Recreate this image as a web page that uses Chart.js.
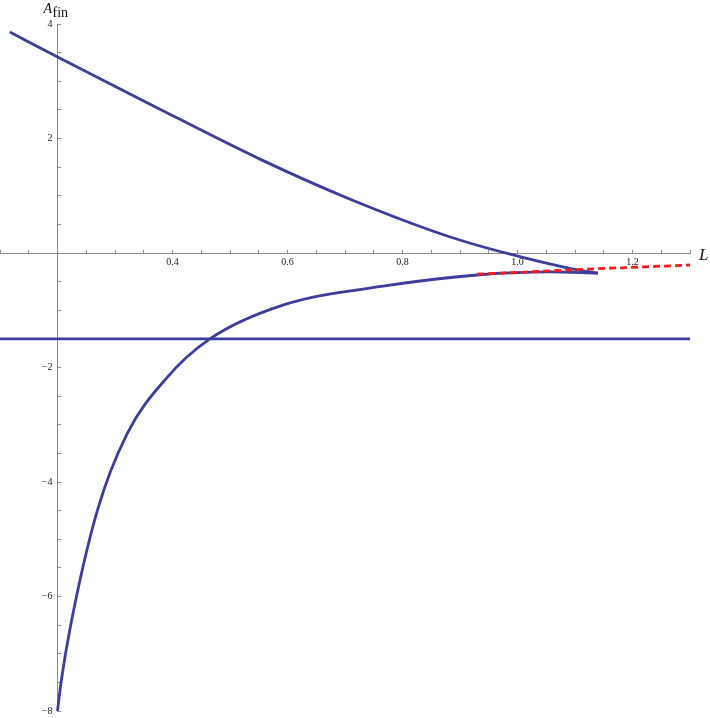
<!DOCTYPE html>
<html>
<head>
<meta charset="utf-8">
<script src="https://cdn.jsdelivr.net/npm/chart.js@4.4.1/dist/chart.umd.min.js"></script>
<style>
  html, body { margin: 0; padding: 0; background: #ffffff; }
  #wrap { width: 710px; height: 718px; position: relative; }
</style>
</head>
<body>
<div id="wrap"><canvas id="chart"></canvas></div>
<script>
// upper branch of A_fin(L)
const upperL = [0.117, 0.201, 0.361, 0.552, 0.709, 0.883, 0.987, 1.097, 1.14];
const upperA = [3.86, 3.42, 2.60, 1.64, 0.94, 0.28, -0.02, -0.28, -0.35];

// lower branch
const lowerL = [0.2, 0.206, 0.222, 0.269, 0.321, 0.39, 0.465, 0.592, 0.766, 0.935, 1.057, 1.14];
const lowerA = [-8.0, -7.51, -6.55, -4.51, -3.16, -2.18, -1.50, -0.91, -0.58, -0.38, -0.33, -0.35];

// constant level
const levelL = [0.1, 1.3];
const levelA = [-1.5, -1.5];

// red dashed approximation
const approxL = [0.93, 1.0, 1.1, 1.2, 1.3];
const approxA = [-0.37, -0.34, -0.29, -0.25, -0.21];

const xLabelTicks = [0.4, 0.6, 0.8, 1.0, 1.2];
const yLabelTicks = [4, 2, -2, -4, -6, -8];

const blue = '#3d3d9d';
const axisGray = '#8c8c8c';
const serif = '"Liberation Serif", "DejaVu Serif", serif';

function pts(xs, ys) {
  return xs.map((x, i) => ({ x: x, y: ys[i] }));
}

function hasLabel(v, list) {
  return list.some(t => Math.abs(t - v) < 1e-6);
}

const axisTitles = {
  id: 'axisTitles',
  afterDraw(chart) {
    const ctx = chart.ctx;
    const xs = chart.scales.x, ys = chart.scales.y;
    const x0 = xs.getPixelForValue(0.2);
    const y0 = ys.getPixelForValue(0);
    ctx.save();
    ctx.fillStyle = '#111';
    ctx.textBaseline = 'alphabetic';
    ctx.textAlign = 'left';
    ctx.font = 'italic 14px ' + serif;
    ctx.fillText('A', x0 - 14, 13);
    ctx.font = '14px ' + serif;
    ctx.fillText('fin', x0 - 5, 17);
    ctx.font = 'italic 17px ' + serif;
    ctx.fillText('L', xs.right + 9, y0 + 7);
    ctx.restore();
  }
};

new Chart(document.getElementById('chart'), {
  type: 'scatter',
  data: {
    datasets: [
      {
        label: 'approx',
        data: pts(approxL, approxA),
        showLine: true,
        borderColor: '#ff1a1a',
        borderWidth: 2.8,
        borderDash: [7, 4],
        pointRadius: 0,
        order: 0
      },
      {
        label: 'upper',
        data: pts(upperL, upperA),
        showLine: true,
        borderColor: blue,
        borderWidth: 2.8,
        pointRadius: 0,
        cubicInterpolationMode: 'monotone',
        order: 1
      },
      {
        label: 'lower',
        data: pts(lowerL, lowerA),
        showLine: true,
        borderColor: blue,
        borderWidth: 2.8,
        pointRadius: 0,
        cubicInterpolationMode: 'monotone',
        order: 2
      },
      {
        label: 'level',
        data: pts(levelL, levelA),
        showLine: true,
        borderColor: blue,
        borderWidth: 2.6,
        pointRadius: 0,
        order: 3
      }
    ]
  },
  options: {
    responsive: true,
    maintainAspectRatio: false,
    animation: false,
    layout: { padding: { left: 0, right: 20, top: 24, bottom: 7 } },
    plugins: {
      legend: { display: false },
      tooltip: { enabled: false }
    },
    scales: {
      x: {
        type: 'linear',
        min: 0.1,
        max: 1.3,
        position: { y: 0 },
        border: { color: axisGray, width: 1 },
        grid: {
          drawOnChartArea: false,
          drawTicks: true,
          tickLength: -4,
          tickColor: axisGray
        },
        ticks: {
          stepSize: 0.05,
          autoSkip: false,
          maxRotation: 0,
          includeBounds: false,
          padding: 0,
          color: '#222',
          font: { family: serif, size: 10, lineHeight: 0.9 },
          // empty first line pushes the number below the axis
          callback: v => hasLabel(v, xLabelTicks) ? ['', v.toFixed(1)] : ''
        }
      },
      y: {
        type: 'linear',
        min: -8,
        max: 4,
        position: { x: 0.2 },
        border: { color: axisGray, width: 1 },
        grid: {
          drawOnChartArea: false,
          drawTicks: true,
          tickLength: -4,
          tickColor: axisGray
        },
        ticks: {
          stepSize: 0.5,
          autoSkip: false,
          includeBounds: false,
          padding: 0,
          color: '#222',
          font: { family: serif, size: 10 },
          callback: v => hasLabel(v, yLabelTicks) ? (v < 0 ? '\u2212' : '') + Math.abs(v) + '\u2002' : ''
        }
      }
    }
  },
  plugins: [axisTitles]
});
</script>
</body>
</html>
